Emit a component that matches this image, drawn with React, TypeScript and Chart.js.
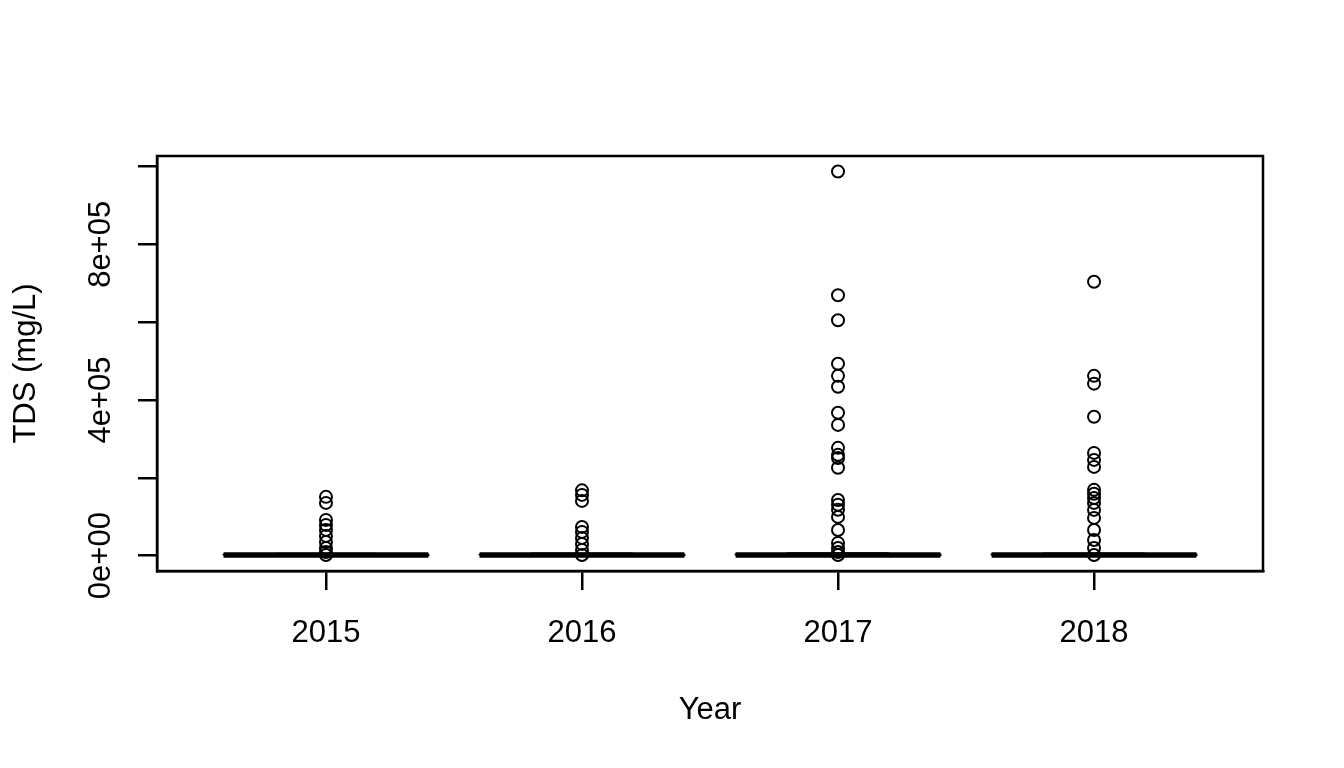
import React, { useEffect, useRef } from "react";
import { Chart, registerables } from "chart.js";

Chart.register(...registerables);

// ---- data ----
const years = ["2015", "2016", "2017", "2018"];
const yearPos = [1, 2, 3, 4];
const medians = [1300, 1400, 1500, 1400];
const q1 = [700, 700, 800, 750];
const q3 = [2400, 2500, 2900, 2700];
const whiskerLow = [50, 60, 40, 50];
const whiskerHigh = [5000, 5200, 5800, 5500];

const outliers2015 = [151000, 135500, 91800, 79000, 66100, 50700, 35200, 19800, 9500, 1800];
const outliers2016 = [167700, 156100, 140700, 73800, 61000, 45500, 30100, 14700, 1800];
const outliers2017 = [
  987000, 669000, 605000, 493000, 462000, 434000, 367000, 336000, 277000, 259000,
  251000, 226000, 143000, 131000, 118000, 99500, 66000, 32700, 19800, 9500, 1800,
];
const outliers2018 = [
  704000, 462000, 442000, 357000, 264000, 246000, 228000, 169000, 159000, 148000,
  135500, 117500, 97000, 66000, 40000, 19800, 1800,
];
const outliers = [outliers2015, outliers2016, outliers2017, outliers2018];

const yTickValues = [0, 200000, 400000, 600000, 800000, 1000000];
const yLabelValues = [0, 400000, 800000];
const yLabelTexts = ["0e+00", "4e+05", "8e+05"];

const FONT = '"Liberation Sans", Arial, Helvetica, sans-serif';
const FSIZE = 31;

const rPlugin = {
  id: "rframe",
  afterDraw(chart: any) {
    const { ctx, chartArea: a, scales } = chart;
    ctx.save();
    ctx.strokeStyle = "#000";
    ctx.lineWidth = 2.5;
    ctx.strokeRect(a.left, a.top, a.right - a.left, a.bottom - a.top);
    ctx.font = `${FSIZE}px ${FONT}`;
    ctx.fillStyle = "#000";
    ctx.textAlign = "center";
    ctx.textBaseline = "middle";
    yLabelValues.forEach((v, i) => {
      const y = scales.y.getPixelForValue(v);
      ctx.save();
      ctx.translate(101, y);
      ctx.rotate(-Math.PI / 2);
      ctx.fillText(yLabelTexts[i], 0, 0);
      ctx.restore();
    });
    ctx.restore();
  },
};

function buildDatasets() {
  const ds: any[] = [];
  const hw = 0.4;
  const cap = 0.2;
  const lineBase = {
    type: "scatter",
    showLine: true,
    pointRadius: 0,
    borderColor: "#000",
    backgroundColor: "#000",
    fill: false,
  };
  yearPos.forEach((x, i) => {
    ds.push({
      ...lineBase,
      borderWidth: 2,
      data: [
        { x: x - hw, y: q1[i] },
        { x: x + hw, y: q1[i] },
        { x: x + hw, y: q3[i] },
        { x: x - hw, y: q3[i] },
        { x: x - hw, y: q1[i] },
      ],
    });
    ds.push({
      ...lineBase,
      borderWidth: 2,
      borderDash: [6, 6],
      data: [
        { x: x, y: q3[i] },
        { x: x, y: whiskerHigh[i] },
      ],
    });
    ds.push({
      ...lineBase,
      borderWidth: 2,
      borderDash: [6, 6],
      data: [
        { x: x, y: q1[i] },
        { x: x, y: whiskerLow[i] },
      ],
    });
    ds.push({
      ...lineBase,
      borderWidth: 2,
      data: [
        { x: x - cap, y: whiskerHigh[i] },
        { x: x + cap, y: whiskerHigh[i] },
      ],
    });
    ds.push({
      ...lineBase,
      borderWidth: 2,
      data: [
        { x: x - cap, y: whiskerLow[i] },
        { x: x + cap, y: whiskerLow[i] },
      ],
    });
    ds.push({
      ...lineBase,
      borderWidth: 5.5,
      borderCapStyle: "butt",
      data: [
        { x: x - hw, y: medians[i] },
        { x: x + hw, y: medians[i] },
      ],
    });
    ds.push({
      type: "scatter",
      showLine: false,
      pointStyle: "circle",
      pointRadius: 6,
      pointBorderWidth: 2,
      borderColor: "#000",
      pointBorderColor: "#000",
      pointBackgroundColor: "rgba(0,0,0,0)",
      backgroundColor: "rgba(0,0,0,0)",
      data: outliers[i].map((v) => ({ x: x, y: v })),
    });
  });
  return ds;
}

export default function App() {
  const ref = useRef<HTMLCanvasElement | null>(null);
  useEffect(() => {
    if (!ref.current) return;
    const chart = new Chart(ref.current, {
      type: "scatter",
      data: { datasets: buildDatasets() },
      plugins: [rPlugin],
      options: {
        animation: false,
        responsive: true,
        maintainAspectRatio: false,
        layout: { padding: { top: 156, right: 81, bottom: 0, left: 0 } },
        plugins: { legend: { display: false }, tooltip: { enabled: false } },
        scales: {
          x: {
            type: "linear",
            min: 0.34,
            max: 4.66,
            afterBuildTicks: (s: any) => {
              s.ticks = yearPos.map((v) => ({ value: v }));
            },
            afterFit: (s: any) => {
              s.height = 197;
            },
            ticks: {
              autoSkip: false,
              maxRotation: 0,
              minRotation: 0,
              padding: 25,
              color: "#000",
              font: { family: FONT, size: FSIZE },
              callback: (v: any) => {
                const idx = yearPos.indexOf(Number(v));
                return idx >= 0 ? years[idx] : "";
              },
            },
            grid: {
              drawOnChartArea: false,
              drawTicks: true,
              tickLength: 19,
              color: "#000",
              lineWidth: 2.5,
            },
            border: { display: true, color: "#000", width: 2.5 },
            title: {
              display: true,
              text: "Year",
              color: "#000",
              font: { family: FONT, size: FSIZE },
              padding: { top: 0, bottom: 39 },
            },
          },
          y: {
            type: "linear",
            min: -39500,
            max: 1027000,
            afterBuildTicks: (s: any) => {
              s.ticks = yTickValues.map((v) => ({ value: v }));
            },
            afterFit: (s: any) => {
              s.width = 157;
            },
            ticks: {
              color: "#000",
              font: { family: FONT, size: FSIZE },
              callback: () => "",
            },
            grid: {
              drawOnChartArea: false,
              drawTicks: true,
              tickLength: 19,
              color: "#000",
              lineWidth: 2.5,
            },
            border: { display: true, color: "#000", width: 2.5 },
            title: {
              display: true,
              text: "TDS (mg/L)",
              color: "#000",
              font: { family: FONT, size: FSIZE },
              padding: { top: 8, bottom: 0 },
            },
          },
        },
      } as any,
    });
    return () => chart.destroy();
  }, []);
  return (
    <div style={{ position: "fixed", left: 0, top: 0, width: 1344, height: 768, background: "#fff" }}>
      <canvas ref={ref} />
    </div>
  );
}
